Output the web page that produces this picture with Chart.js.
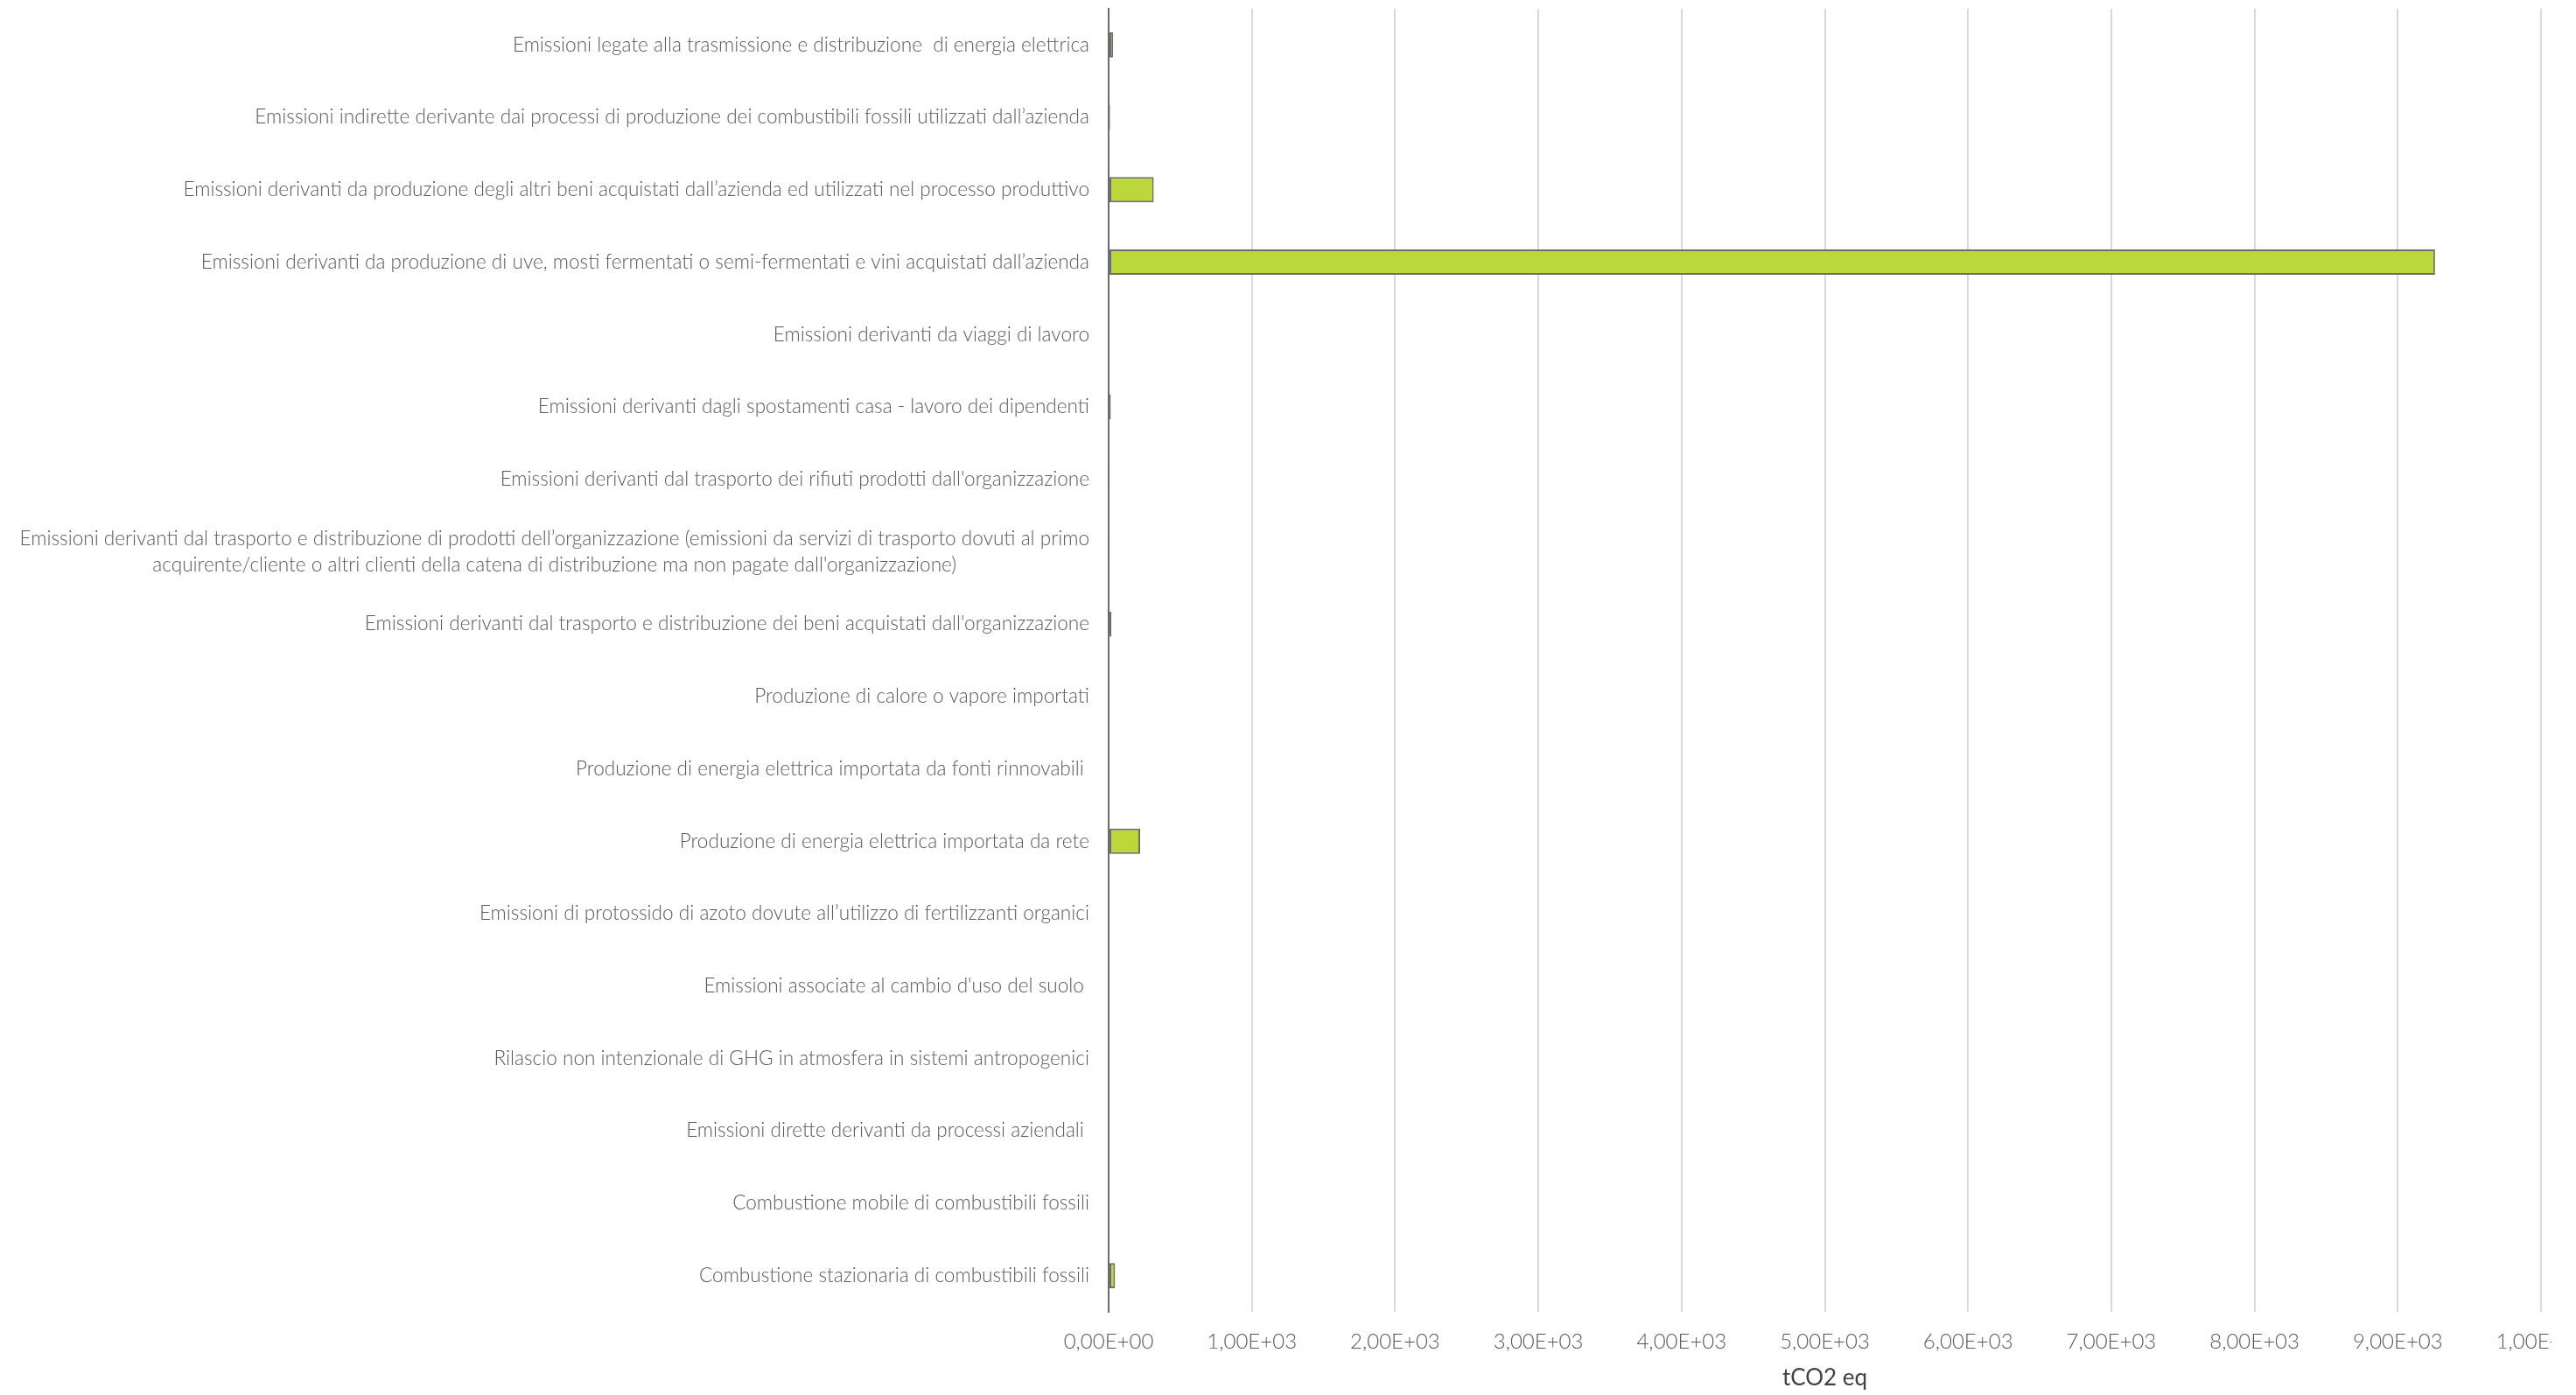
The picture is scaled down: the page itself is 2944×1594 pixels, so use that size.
<!DOCTYPE html>
<html lang="it">
<head>
<meta charset="utf-8">
<title>Emissioni tCO2 eq</title>
<script src="https://cdn.jsdelivr.net/npm/chart.js@4.4.1/dist/chart.umd.min.js"></script>
<style>
  html, body { margin: 0; padding: 0; background: #ffffff; overflow: hidden; }
  #wrap { width: 2944px; height: 1594px; }
  canvas { display: block; }
</style>
</head>
<body>
<div id="wrap">
  <canvas id="emissioni" width="2916" height="1594"></canvas>
</div>
<script>
// categorie, dall'alto verso il basso
const categorie = [
  'Emissioni legate alla trasmissione e distribuzione  di energia elettrica',
  'Emissioni indirette derivante dai processi di produzione dei combustibili fossili utilizzati dall’azienda',
  'Emissioni derivanti da produzione degli altri beni acquistati dall’azienda ed utilizzati nel processo produttivo',
  'Emissioni derivanti da produzione di uve, mosti fermentati o semi-fermentati e vini acquistati dall’azienda',
  'Emissioni derivanti da viaggi di lavoro',
  'Emissioni derivanti dagli spostamenti casa - lavoro dei dipendenti',
  'Emissioni derivanti dal trasporto dei rifiuti prodotti dall\'organizzazione',
  ['Emissioni derivanti dal trasporto e distribuzione di prodotti dell’organizzazione (emissioni da servizi di trasporto dovuti al primo',
   'acquirente/cliente o altri clienti della catena di distribuzione ma non pagate dall\'organizzazione)'],
  'Emissioni derivanti dal trasporto e distribuzione dei beni acquistati dall\'organizzazione',
  'Produzione di calore o vapore importati',
  'Produzione di energia elettrica importata da fonti rinnovabili ',
  'Produzione di energia elettrica importata da rete',
  'Emissioni di protossido di azoto dovute all’utilizzo di fertilizzanti organici',
  'Emissioni associate al cambio d\'uso del suolo ',
  'Rilascio non intenzionale di GHG in atmosfera in sistemi antropogenici',
  'Emissioni dirette derivanti da processi aziendali ',
  'Combustione mobile di combustibili fossili',
  'Combustione stazionaria di combustibili fossili'
];

// tCO2 eq per categoria
const valori = [32, 10, 315, 9260, 3, 15, 2, 2, 20, 0, 0, 220, 0, 0, 0, 0, 0, 45];

const asseMin = 0;
const asseMax = 10000;
const asseStep = 1000;
const titoloAsse = 'tCO2 eq';

const FONT = 'Lato, "Open Sans", sans-serif';
const GRIGIO_TESTO = '#595959';

// 1000 -> "1,00E+03"
function formatoScientifico(v) {
  const [m, e] = Number(v).toExponential(2).split('e');
  const exp = parseInt(e, 10);
  const segno = exp < 0 ? '-' : '+';
  return m.replace('.', ',') + 'E' + segno + String(Math.abs(exp)).padStart(2, '0');
}

// etichette dell'asse categorie: allineate a destra, le righe multiple centrate tra loro
const etichetteCategorie = {
  id: 'etichetteCategorie',
  afterDraw(chart) {
    const ctx = chart.ctx;
    const y = chart.scales.y;
    const destra = chart.chartArea.left - 22;
    const interlinea = 30;
    ctx.save();
    ctx.font = '300 22.6px ' + FONT;
    ctx.fillStyle = GRIGIO_TESTO;
    ctx.textBaseline = 'middle';
    categorie.forEach((lab, i) => {
      const cy = y.getPixelForValue(i);
      if (Array.isArray(lab)) {
        const larg = Math.max(...lab.map(r => ctx.measureText(r).width));
        const cx = destra - larg / 2;
        ctx.textAlign = 'center';
        lab.forEach((riga, k) => {
          ctx.fillText(riga, cx, cy + (k - (lab.length - 1) / 2) * interlinea);
        });
      } else {
        ctx.textAlign = 'right';
        ctx.fillText(lab, destra, cy);
      }
    });
    ctx.restore();
  }
};

const ctx = document.getElementById('emissioni').getContext('2d');
new Chart(ctx, {
  type: 'bar',
  data: {
    labels: categorie.map(c => Array.isArray(c) ? c.join(' ') : c),
    datasets: [{
      data: valori,
      backgroundColor: '#bbd739',
      borderColor: '#6e6e6e',
      borderWidth: 2,
      borderSkipped: false,
      barPercentage: 0.35,
      categoryPercentage: 1
    }]
  },
  options: {
    indexAxis: 'y',
    responsive: false,
    animation: false,
    devicePixelRatio: 1,
    layout: { padding: { top: 10, right: 12, left: 0, bottom: 0 } },
    plugins: {
      legend: { display: false },
      tooltip: { enabled: false }
    },
    scales: {
      x: {
        min: asseMin,
        max: asseMax,
        grid: { color: '#d9d9d9', lineWidth: 2, drawTicks: false },
        border: { display: false },
        ticks: {
          stepSize: asseStep,
          padding: 20,
          color: GRIGIO_TESTO,
          font: { family: FONT, size: 24, weight: '300' },
          maxRotation: 0,
          callback: v => formatoScientifico(v)
        },
        title: {
          display: true,
          text: titoloAsse,
          color: '#404040',
          font: { family: FONT, size: 26 },
          padding: { top: 0, bottom: 4 }
        },
        afterFit(scale) {
          scale.height = 95;
          scale.paddingLeft = 0;
          scale.paddingRight = 0;
        }
      },
      y: {
        grid: { display: false },
        border: { display: true, color: '#6b6b6b', width: 2 },
        ticks: { display: false },
        afterFit(scale) {
          scale.width = 1267;
        }
      }
    }
  },
  plugins: [etichetteCategorie]
});
</script>
</body>
</html>
